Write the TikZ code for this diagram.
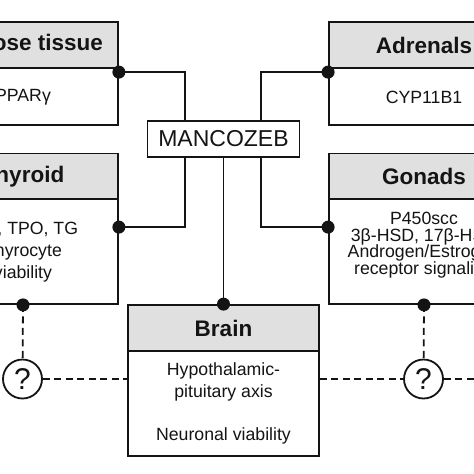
\documentclass[tikz,border=0pt]{standalone}
\usepackage{fontspec}
\setmainfont{Liberation Sans}
\usetikzlibrary{calc}
\definecolor{hdrgray}{RGB}{224,224,224}
\definecolor{ink}{RGB}{20,20,20}
\begin{document}
\begin{tikzpicture}[x=1pt,y=-1pt, line width=1.8pt, color=ink,
  hdr/.style={draw=ink, fill=hdrgray, line width=1.8pt, minimum width=190pt, inner sep=0pt, font=\fontsize{22.5}{26}\selectfont\bfseries},
  bodybox/.style={draw=ink, line width=1.8pt, minimum width=190pt, inner sep=0pt},
  txt/.style={align=center, inner sep=0pt, text=ink},
  mancbox/.style={draw=ink, line width=1.8pt, minimum width=152pt, minimum height=36pt, inner sep=0pt, font=\fontsize{23}{27}\selectfont},
  qmark/.style={circle, draw=ink, line width=1.8pt, fill=white, minimum size=39pt, inner sep=0pt, font=\fontsize{30}{34}\selectfont},
  dsh/.style={dash pattern=on 7pt off 4.5pt, line width=1.8pt, draw=ink},
  dot/.style={fill=ink}
]
\useasboundingbox (0,0) rectangle (474,474);
\clip (0,0) rectangle (474,474);
\fill[white] (0,0) rectangle (474,474);

% Adipose tissue
\node[hdr, minimum height=46pt] (adiH) at (23,45) {Adipose tissue};
\node[bodybox, minimum height=57pt] (adiB) at (23,96.5) {};
\node[txt, font=\fontsize{17.7}{22}\selectfont] (adiT) at (23,97) {PPARγ};

% Adrenals
\node[hdr, minimum height=46pt] (adrH) at (424,45) {Adrenals};
\node[bodybox, minimum height=57pt] (adrB) at (424,96.5) {};
\node[txt, font=\fontsize{17.7}{22}\selectfont] (adrT) at (424,97) {CYP11B1};

% Thyroid
\node[hdr, minimum height=46pt] (thyH) at (23,176.5) {Thyroid};
\node[bodybox, minimum height=105pt] (thyB) at (23,251.5) {};
\node[txt, font=\fontsize{17.7}{21.8}\selectfont] (thyT) at (23,252) {NIS, TPO, TG\\Thyrocyte\\viability};

% Gonads
\node[hdr, minimum height=46pt] (gonH) at (424,176.5) {Gonads};
\node[bodybox, minimum height=105pt] (gonB) at (424,251.5) {};
\node[txt, font=\fontsize{17.7}{16.5}\selectfont] (gonT) at (424,245) {P450scc\\3β-HSD, 17β-HSD\\Androgen/Estrogen\\receptor signaling};

% Brain
\node[hdr, minimum width=191pt, minimum height=46pt] (brH) at (223.5,328) {Brain};
\node[bodybox, minimum width=191pt, minimum height=105pt] (brB) at (223.5,403.5) {};
\node[txt, font=\fontsize{17.7}{21.7}\selectfont] (brT) at (223.5,403.5) {Hypothalamic-\\pituitary axis\\[21.7pt]Neuronal viability};

% Mancozeb
\node[mancbox] (manc) at (223.5,139) {MANCOZEB};

% connection points
\coordinate (dAdi) at ($(adiB.north east)+(0,5)$);
\coordinate (dAdr) at ($(adrB.north west)+(0,5)$);
\coordinate (dThy) at ($(thyB.north east)+(0,29)$);
\coordinate (dGon) at ($(gonB.north west)+(0,29)$);
\coordinate (dThyB) at (thyB.south);
\coordinate (dGonB) at (gonB.south);
\coordinate (endR) at (480,379);

% question circles
\node[qmark] (qL) at (22.5,379) {?};
\node[qmark] (qR) at (423.5,379) {?};

% solid connectors
\draw (dAdi) -| ($(manc.north west)+(38.5,0)$);
\draw (dAdr) -| ($(manc.north east)+(-39.5,0)$);
\draw ($(manc.south west)+(38.5,0)$) |- (dThy);
\draw ($(manc.south east)+(-39.5,0)$) |- (dGon);
\draw (manc.south) -- (brH.north);

% dashed connectors
\draw[dsh] (dThyB) -- (qL);
\draw[dsh] (qL) -- (qL -| brB.west);
\draw[dsh] (qR -| brB.east) -- (qR);
\draw[dsh] (qR) -- (endR);
\draw[dsh] (dGonB) -- (qR);

% dots
\fill[dot] (dAdi) circle (6.5);
\fill[dot] (dAdr) circle (6.5);
\fill[dot] (dThy) circle (6.5);
\fill[dot] (dGon) circle (6.5);
\fill[dot] (brH.north) circle (6.5);
\fill[dot] (dThyB) circle (6.5);
\fill[dot] (dGonB) circle (6.5);
\end{tikzpicture}
\end{document}
